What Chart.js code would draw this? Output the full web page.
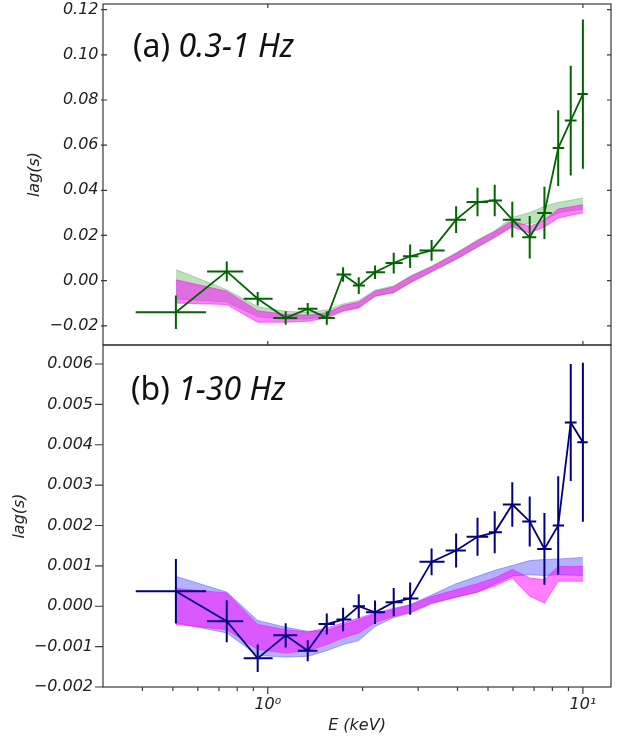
<!DOCTYPE html>
<html>
<head>
<meta charset="utf-8">
<script src="https://cdn.jsdelivr.net/npm/chart.js@4.4.1/dist/chart.umd.min.js"></script>
<style>
  body { margin: 0; background: #fff; }
  #wrap { position: relative; width: 620px; height: 738px; }
  canvas { position: absolute; left: 0; }
  #slow-chart { top: 0; }
  #fast-chart { top: 340px; }
</style>
</head>
<body>
<div id="wrap">
  <canvas id="slow-chart" width="620" height="350"></canvas>
  <canvas id="fast-chart" width="620" height="398"></canvas>
</div>
<script>
// energy bins (keV)
const energy = [0.511, 0.741, 0.929, 1.14, 1.339, 1.539, 1.734, 1.944, 2.19, 2.51, 2.83, 3.31, 3.96, 4.63, 5.25, 5.97, 6.78, 7.55, 8.35, 9.15, 10.0];
const energyLo = [0.381, 0.642, 0.839, 1.041, 1.246, 1.449, 1.652, 1.862, 2.05, 2.366, 2.686, 3.03, 3.667, 4.274, 5.03, 5.57, 6.42, 7.16, 8.02, 8.76, 9.6];
const energyHi = [0.637, 0.836, 1.036, 1.24, 1.438, 1.633, 1.841, 2.035, 2.355, 2.68, 3.006, 3.64, 4.253, 5.005, 5.534, 6.35, 7.11, 7.96, 8.72, 9.55, 10.36];

// (a) 0.3-1 Hz
const slowLag = [-0.0140, 0.0041, -0.0080, -0.0165, -0.0125, -0.0165, 0.0027, -0.0022, 0.0037, 0.0078, 0.0108, 0.0134, 0.0270, 0.0348, 0.0355, 0.0270, 0.0192, 0.0300, 0.0587, 0.0709, 0.0826];
const slowLagErr = [0.0074, 0.0044, 0.0030, 0.0030, 0.0026, 0.0030, 0.0032, 0.0037, 0.0030, 0.0046, 0.0052, 0.0046, 0.0059, 0.0063, 0.0070, 0.0079, 0.0094, 0.0116, 0.0168, 0.0243, 0.0330];
const slowGreenLo = [-0.0081, -0.0095, -0.0160, -0.0172, -0.0170, -0.0158, -0.0132, -0.0118, -0.0070, -0.0054, -0.0011, 0.0037, 0.0093, 0.0147, 0.0189, 0.0243, 0.0252, 0.0268, 0.0300, 0.0310, 0.0316];
const slowGreenHi = [0.0049, -0.0040, -0.0115, -0.0136, -0.0140, -0.0130, -0.0103, -0.0088, -0.0042, -0.0023, 0.0021, 0.0065, 0.0124, 0.0181, 0.0221, 0.0280, 0.0302, 0.0329, 0.0347, 0.0356, 0.0366];
const slowPinkLo = [-0.0099, -0.0106, -0.0184, -0.0184, -0.0180, -0.0165, -0.0136, -0.0121, -0.0068, -0.0052, -0.0009, 0.0041, 0.0096, 0.0150, 0.0193, 0.0238, 0.0211, 0.0238, 0.0277, 0.0290, 0.0300];
const slowPinkHi = [0.0004, -0.0047, -0.0133, -0.0150, -0.0153, -0.0143, -0.0110, -0.0095, -0.0047, -0.0027, 0.0017, 0.0061, 0.0120, 0.0177, 0.0218, 0.0265, 0.0240, 0.0268, 0.0317, 0.0327, 0.0336];

// (b) 1-30 Hz
const fastLag = [0.00037, -0.00037, -0.00129, -0.00072, -0.00110, -0.00044, -0.00033, 0.00000, -0.00015, 0.00010, 0.00019, 0.00110, 0.00138, 0.00172, 0.00183, 0.00252, 0.00210, 0.00142, 0.00200, 0.00455, 0.00406];
const fastLagErr = [0.00080, 0.00052, 0.00034, 0.00030, 0.00026, 0.00026, 0.00029, 0.00030, 0.00029, 0.00035, 0.00040, 0.00033, 0.00042, 0.00047, 0.00052, 0.00055, 0.00062, 0.00089, 0.00122, 0.00145, 0.00197];
const fastBlueLo = [-0.00041, -0.00066, -0.00122, -0.00126, -0.00124, -0.00110, -0.00095, -0.00085, -0.00050, -0.00028, -0.00017, 0.00006, 0.00022, 0.00035, 0.00055, 0.00075, 0.00078, 0.00076, 0.00078, 0.00077, 0.00076];
const fastBlueHi = [0.00074, 0.00035, -0.00035, -0.00052, -0.00062, -0.00060, -0.00046, -0.00034, -0.00020, -0.00008, 0.00004, 0.00028, 0.00056, 0.00074, 0.00089, 0.00101, 0.00113, 0.00116, 0.00117, 0.00119, 0.00121];
const fastPinkLo = [-0.00045, -0.00058, -0.00107, -0.00116, -0.00110, -0.00095, -0.00078, -0.00066, -0.00040, -0.00025, -0.00015, 0.00008, 0.00023, 0.00035, 0.00050, 0.00070, 0.00025, 0.00008, 0.00062, 0.00062, 0.00062];
const fastPinkHi = [0.00044, 0.00033, -0.00045, -0.00058, -0.00064, -0.00054, -0.00041, -0.00029, -0.00017, -0.00005, 0.00003, 0.00024, 0.00041, 0.00056, 0.00070, 0.00091, 0.00070, 0.00066, 0.00099, 0.00098, 0.00099];

// ticks
const slowTicks = [-0.02, 0, 0.02, 0.04, 0.06, 0.08, 0.10, 0.12];
const slowTickLabels = ["\u22120.02", "0.00", "0.02", "0.04", "0.06", "0.08", "0.10", "0.12"];
const fastTicks = [-0.002, -0.001, 0, 0.001, 0.002, 0.003, 0.004, 0.005, 0.006];
const fastTickLabels = ["\u22120.002", "\u22120.001", "0.000", "0.001", "0.002", "0.003", "0.004", "0.005", "0.006"];
const energyTicks = [1, 10];
const energyTickLabels = ["10\u2070", "10\u00b9"];
const energyMinorTicks = [0.4, 0.5, 0.6, 0.7, 0.8, 0.9, 2, 3, 4, 5, 6, 7, 8, 9];

const tickFont = { family: "DejaVu Sans", size: 16, style: "italic" };
const frameColor = "#3a3a3a";

const pts = arr => energy.map((e, i) => ({ x: e, y: arr[i] }));

function band(lo, hi, color, order) {
	return [
		{ data: pts(lo), showLine: true, borderColor: color, borderWidth: 1, pointRadius: 0, fill: false, order: order },
		{ data: pts(hi), showLine: true, borderColor: color, borderWidth: 1, pointRadius: 0, fill: "-1", backgroundColor: color, order: order },
	];
}

const errorBars = {
	id: "errorBars",
	afterDatasetsDraw(chart) {
		const { ctx, chartArea: a, scales: { x, y } } = chart;
		ctx.save();
		ctx.beginPath();
		ctx.rect(a.left, a.top, a.right - a.left, a.bottom - a.top);
		ctx.clip();
		chart.data.datasets.forEach(ds => {
			if (!ds.yErr) return;
			ctx.strokeStyle = ds.borderColor;
			ctx.lineWidth = 2;
			ds.data.forEach((p, i) => {
				const px = x.getPixelForValue(p.x);
				const py = y.getPixelForValue(p.y);
				ctx.beginPath();
				ctx.moveTo(x.getPixelForValue(ds.xLo[i]), py);
				ctx.lineTo(x.getPixelForValue(ds.xHi[i]), py);
				ctx.moveTo(px, y.getPixelForValue(p.y - ds.yErr[i]));
				ctx.lineTo(px, y.getPixelForValue(p.y + ds.yErr[i]));
				ctx.stroke();
			});
		});
		ctx.restore();
	},
};

// frame, tick marks and the panel label
const frameTicks = {
	id: "frameTicks",
	afterDraw(chart, args, opts) {
		const { ctx, chartArea: a, scales: { x, y } } = chart;
		const seg = (x1, y1, x2, y2) => { ctx.moveTo(x1, y1); ctx.lineTo(x2, y2); };
		ctx.save();
		ctx.strokeStyle = frameColor;
		ctx.lineWidth = 1.2;
		ctx.strokeRect(a.left, a.top, a.right - a.left, a.bottom - a.top);
		ctx.beginPath();
		y.ticks.forEach(t => {
			const py = y.getPixelForValue(t.value);
			seg(a.left - opts.yOut, py, a.left + opts.yIn, py);
			if (opts.mirror) seg(a.right - opts.yIn, py, a.right, py);
		});
		energyTicks.forEach(v => {
			const px = x.getPixelForValue(v);
			seg(px, a.bottom - opts.xIn, px, a.bottom + opts.xOut);
			if (opts.mirror) seg(px, a.top, px, a.top + opts.xIn);
		});
		if (opts.minor) {
			energyMinorTicks.forEach(v => {
				const px = x.getPixelForValue(v);
				seg(px, a.bottom, px, a.bottom + 4);
			});
		}
		ctx.stroke();

		ctx.fillStyle = "#111";
		ctx.textBaseline = "alphabetic";
		ctx.font = "32px 'Noto Sans'";
		ctx.fillText(opts.tag, opts.labelX, opts.labelY);
		const w = ctx.measureText(opts.tag).width;
		ctx.font = "italic 32px 'Noto Sans'";
		ctx.fillText(opts.text, opts.labelX + w, opts.labelY);
		ctx.restore();
	},
};

function makePanel(id, cfg) {
	const ctx = document.getElementById(id).getContext("2d");
	return new Chart(ctx, {
		type: "scatter",
		data: {
			datasets: [
				...band(cfg.bandLo, cfg.bandHi, cfg.bandColor, 3),
				...band(cfg.pinkLo, cfg.pinkHi, "rgba(255, 0, 255, 0.5)", 2),
				{
					data: pts(cfg.lag),
					showLine: true,
					borderColor: cfg.color,
					borderWidth: 1.8,
					pointRadius: 0,
					fill: false,
					order: 1,
					yErr: cfg.lagErr,
					xLo: energyLo,
					xHi: energyHi,
				},
			],
		},
		options: {
			responsive: false,
			animation: false,
			layout: { padding: cfg.padding },
			plugins: {
				legend: { display: false },
				tooltip: { enabled: false },
				frameTicks: cfg.frame,
			},
			scales: {
				x: {
					type: "logarithmic",
					min: 0.32,
					max: 12.28,
					grid: { display: false, drawTicks: false },
					border: { display: false },
					ticks: {
						display: cfg.showX,
						autoSkip: false,
						maxRotation: 0,
						padding: 8,
						color: "#222",
						font: tickFont,
						callback: (v, i) => energyTickLabels[i],
					},
					title: {
						display: cfg.showX,
						text: "E (keV)",
						color: "#222",
						font: tickFont,
						padding: { top: 0, bottom: 3 },
					},
					afterBuildTicks: s => { s.ticks = energyTicks.map(v => ({ value: v })); },
					afterFit: s => {
						s.height = cfg.xHeight;
						s.paddingLeft = 0; s.paddingRight = 0;
					},
				},
				y: {
					min: cfg.yMin,
					max: cfg.yMax,
					grid: { display: false, drawTicks: false },
					border: { display: false },
					ticks: {
						padding: cfg.yPad,
						color: "#222",
						font: tickFont,
						callback: (v, i) => cfg.tickLabels[i],
					},
					title: {
						display: true,
						text: "lag(s)",
						color: "#222",
						font: tickFont,
						padding: { top: cfg.titlePad, bottom: 0 },
					},
					afterBuildTicks: s => { s.ticks = cfg.ticks.map(v => ({ value: v })); },
					afterFit: s => {
						s.width = 103;
						s.paddingTop = 0; s.paddingBottom = 0;
					},
				},
			},
		},
		plugins: [errorBars, frameTicks],
	});
}

makePanel("slow-chart", {
	lag: slowLag,
	lagErr: slowLagErr,
	bandLo: slowGreenLo,
	bandHi: slowGreenHi,
	bandColor: "rgba(0, 128, 0, 0.25)",
	pinkLo: slowPinkLo,
	pinkHi: slowPinkHi,
	color: "#006400",
	yMin: -0.0285,
	yMax: 0.1225,
	ticks: slowTicks,
	tickLabels: slowTickLabels,
	yPad: 4.5,
	titlePad: 25,
	showX: false,
	xHeight: 0,
	padding: { top: 4, right: 9, bottom: 5, left: 0 },
	frame: { yOut: 2, yIn: 4, xIn: 4, xOut: 0, mirror: true, minor: false, tag: "(a) ", text: "0.3-1 Hz", labelX: 133, labelY: 57 },
});

makePanel("fast-chart", {
	lag: fastLag,
	lagErr: fastLagErr,
	bandLo: fastBlueLo,
	bandHi: fastBlueHi,
	bandColor: "rgba(0, 0, 255, 0.3)",
	pinkLo: fastPinkLo,
	pinkHi: fastPinkHi,
	color: "#000080",
	yMin: -0.002,
	yMax: 0.00647,
	ticks: fastTicks,
	tickLabels: fastTickLabels,
	yPad: 10,
	titlePad: 10,
	showX: true,
	xHeight: 51,
	padding: { top: 5, right: 9, bottom: 0, left: 0 },
	frame: { yOut: 8, yIn: 0, xIn: 0, xOut: 7, mirror: false, minor: true, tag: "(b) ", text: "1-30 Hz", labelX: 131, labelY: 60 },
});
</script>
</body>
</html>
